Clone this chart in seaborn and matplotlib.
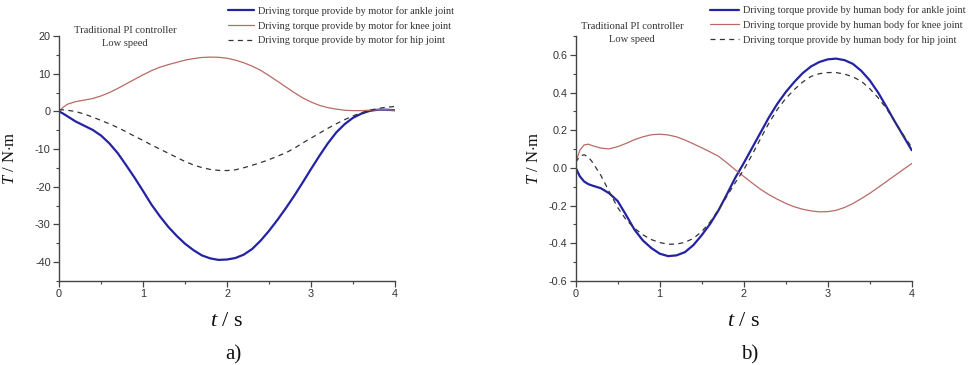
import numpy as np
import pandas as pd
import matplotlib
matplotlib.use("Agg")
import matplotlib.pyplot as plt
from matplotlib.ticker import MultipleLocator
import seaborn as sns

# ---------------- data: panel a) motor torques ----------------
t_a = [0, 0.05, 0.1, 0.2, 0.3, 0.4, 0.5, 0.6, 0.7, 0.8, 0.9, 1.0, 1.1, 1.2,
       1.3, 1.4, 1.5, 1.6, 1.7, 1.8, 1.9, 2.0, 2.1, 2.2, 2.3, 2.4, 2.5, 2.6,
       2.7, 2.8, 2.9, 3.0, 3.1, 3.2, 3.3, 3.4, 3.5, 3.6, 3.7, 3.8, 3.9, 4.0]
ankle_a = [0, -0.6, -1.3, -2.7, -3.8, -4.9, -6.4, -8.5, -11.1, -14.3, -17.6,
           -21.1, -24.7, -27.8, -30.6, -33.0, -35.1, -36.8, -38.2, -39.0,
           -39.4, -39.3, -38.9, -38.0, -36.5, -34.3, -31.7, -28.8, -25.7,
           -22.4, -18.9, -15.3, -11.8, -8.5, -5.6, -3.4, -1.7, -0.6, 0.15,
           0.45, 0.45, 0.3]
knee_a = [0, 1.1, 1.9, 2.6, 3.0, 3.4, 4.1, 5.0, 6.1, 7.3, 8.5, 9.7, 10.8, 11.7,
          12.4, 13.0, 13.6, 14.0, 14.3, 14.4, 14.35, 14.1, 13.6, 12.9, 12.0,
          10.9, 9.5, 8.0, 6.5, 5.0, 3.6, 2.5, 1.6, 1.0, 0.6, 0.3, 0.2, 0.2,
          0.3, 0.45, 0.45, 0.3]
hip_a = [0.45, 0.4, 0.3, -0.05, -0.7, -1.5, -2.4, -3.3, -4.3, -5.4, -6.6,
         -7.7, -8.9, -10.0, -11.1, -12.2, -13.3, -14.2, -14.9, -15.4, -15.65,
         -15.7, -15.5, -14.95, -14.3, -13.6, -12.8, -11.9, -11.0, -9.8, -8.4,
         -7.1, -5.8, -4.5, -3.3, -2.2, -1.2, -0.35, 0.3, 0.8, 1.1, 1.3]

# ---------------- data: panel b) human body torques ----------------
t_b = [0, 0.05, 0.1, 0.15, 0.2, 0.3, 0.4, 0.5, 0.6, 0.7, 0.8, 0.9, 1.0, 1.1,
       1.2, 1.3, 1.4, 1.5, 1.6, 1.7, 1.8, 1.9, 2.0, 2.1, 2.2, 2.3, 2.4, 2.5,
       2.6, 2.7, 2.8, 2.9, 3.0, 3.1, 3.2, 3.3, 3.4, 3.5, 3.6, 3.7, 3.8, 3.9,
       4.0]
ankle_b = [0, -0.045, -0.072, -0.086, -0.094, -0.108, -0.135, -0.176, -0.25,
           -0.328, -0.385, -0.425, -0.455, -0.468, -0.464, -0.447, -0.41,
           -0.357, -0.297, -0.225, -0.14, -0.052, 0.025, 0.106, 0.187, 0.268,
           0.34, 0.402, 0.455, 0.502, 0.538, 0.562, 0.576, 0.58, 0.572, 0.552,
           0.515, 0.465, 0.4, 0.324, 0.245, 0.17, 0.094]
knee_b = [0.03, 0.094, 0.122, 0.126, 0.118, 0.105, 0.101, 0.113, 0.13, 0.15,
          0.165, 0.176, 0.179, 0.175, 0.165, 0.148, 0.128, 0.107, 0.085, 0.062,
          0.027, -0.01, -0.045, -0.08, -0.113, -0.142, -0.166, -0.188, -0.206,
          -0.219, -0.228, -0.233, -0.232, -0.225, -0.21, -0.189, -0.163,
          -0.135, -0.104, -0.072, -0.04, -0.008, 0.023]
hip_b = [0.03, 0.062, 0.07, 0.058, 0.03, -0.04, -0.127, -0.21, -0.275, -0.32,
         -0.355, -0.38, -0.396, -0.405, -0.404, -0.395, -0.374, -0.338, -0.287,
         -0.222, -0.15, -0.078, -0.01, 0.07, 0.155, 0.238, 0.31, 0.368, 0.415,
         0.455, 0.485, 0.5, 0.506, 0.506, 0.498, 0.483, 0.46, 0.421, 0.372,
         0.315, 0.245, 0.175, 0.11]

labels_a = ["Driving torque provide by motor for ankle joint",
            "Driving torque provide by motor for knee joint",
            "Driving torque provide by motor for hip joint"]
labels_b = ["Driving torque provide by human body for ankle joint",
            "Driving torque provide by human body for knee joint",
            "Driving torque provide by human body for hip joint"]
yticks_a = [-40, -30, -20, -10, 0, 10, 20]
yticks_b = [-0.6, -0.4, -0.2, 0.0, 0.2, 0.4, 0.6]
xticks = [0, 1, 2, 3, 4]
note_text = "Traditional PI controller\nLow speed"
panel_tags = ["a)", "b)"]

sns.set_style("ticks")
plt.rcParams["axes.unicode_minus"] = False
plt.rcParams["font.family"] = ["Liberation Sans", "DejaVu Sans"]
plt.rcParams["mathtext.fontset"] = "custom"
plt.rcParams["mathtext.rm"] = "Liberation Serif"
plt.rcParams["mathtext.it"] = "Liberation Serif:italic"
plt.rcParams["mathtext.bf"] = "Liberation Serif:bold"

W, H = 971, 365
fig = plt.figure(figsize=(W / 100, H / 100), dpi=100)

C_ANKLE = "#2323a3"
C_KNEE = "#b96b66"
C_HIP = "#333333"
SERIF = ["Liberation Serif", "DejaVu Serif"]

def fx(px):
    return px / W

def fy(py):
    return 1 - py / H

axes_px = [(59, 395), (575.7, 911.7)]
top_px, bot_px = 36, 281

panels = [
    dict(t=t_a, a=ankle_a, k=knee_a, h=hip_a, labels=labels_a,
         ylim=(-45, 20), yt=yticks_a, minor=5, fmt="{:.0f}",
         leg=(228, 6, 2.5), note=(125, 26), ylab_x=-0.122, tag=233),
    dict(t=t_b, a=ankle_b, k=knee_b, h=hip_b, labels=labels_b,
         ylim=(-0.6, 0.7), yt=yticks_b, minor=0.1, fmt="{:.1f}",
         leg=(710, 5.5, 2.8), note=(632, 22), ylab_x=-0.100, tag=750),
]

for (x0, x1), p, tag in zip(axes_px, panels, panel_tags):
    ax = fig.add_axes([fx(x0), fy(bot_px), (x1 - x0) / W, (bot_px - top_px) / H])
    df = pd.DataFrame({"t": p["t"], "ankle": p["a"], "knee": p["k"], "hip": p["h"]})
    sns.lineplot(data=df, x="t", y="ankle", ax=ax, color=C_ANKLE, linewidth=1.6,
                 label=p["labels"][0])
    sns.lineplot(data=df, x="t", y="knee", ax=ax, color=C_KNEE, linewidth=0.9,
                 label=p["labels"][1])
    sns.lineplot(data=df, x="t", y="hip", ax=ax, color=C_HIP, linewidth=0.9,
                 linestyle=(0, (4, 3.5)), label=p["labels"][2])
    for ln in ax.get_lines():
        ln.set_solid_joinstyle("round")
        ln.set_dash_joinstyle("round")
    ax.set_xlim(0, 4)
    ax.set_ylim(*p["ylim"])
    ax.xaxis.set_minor_locator(MultipleLocator(0.5))
    ax.yaxis.set_minor_locator(MultipleLocator(p["minor"]))
    ax.set_yticks(p["yt"])
    ax.set_yticklabels([p["fmt"].format(v) if abs(v) > 1e-9 else p["fmt"].format(0.0)
                        for v in p["yt"]])
    ax.set_xticks(xticks)
    ax.set_xticklabels([str(v) for v in xticks])
    sns.despine(ax=ax)
    for s in ["left", "bottom"]:
        ax.spines[s].set_color("#444444")
        ax.spines[s].set_linewidth(1.0)
    ax.tick_params(which="major", direction="out", length=4, width=0.9,
                   color="#444444", labelsize=7.8, labelcolor="#333333", pad=2)
    ax.tick_params(which="minor", direction="out", length=2.5, width=0.8,
                   color="#444444")
    ax.set_facecolor("white")

    ax.set_xlabel("$\\mathit{t}$ / s", fontsize=16, family=SERIF, color="#111111")
    ax.xaxis.set_label_coords(0.5, -0.125)
    ax.set_ylabel("$\\mathit{T}$ / N$\\cdot$m", fontsize=12, family=SERIF, color="#111111")
    ax.yaxis.set_label_coords(p["ylab_x"], 0.5)

    handles, labs = ax.get_legend_handles_labels()
    lx, ly, hl = p["leg"]
    ax.legend(handles, labs, loc="upper left", bbox_to_anchor=(fx(lx), fy(ly)),
              bbox_transform=fig.transFigure, frameon=False, borderpad=0,
              borderaxespad=0, handlelength=hl, handletextpad=0.45,
              labelspacing=0.5, prop={"family": SERIF, "size": 7.4},
              labelcolor="#333333")

    nx, ny = p["note"]
    fig.text(fx(nx), fy(ny), note_text, ha="center", va="top", family=SERIF,
             fontsize=7.6, color="#333333", linespacing=1.55)
    fig.text(fx(p["tag"]), fy(355), tag, ha="center", va="center", family=SERIF,
             fontsize=15, color="#111111")

fig.savefig("out.png", dpi=100, facecolor="white")
